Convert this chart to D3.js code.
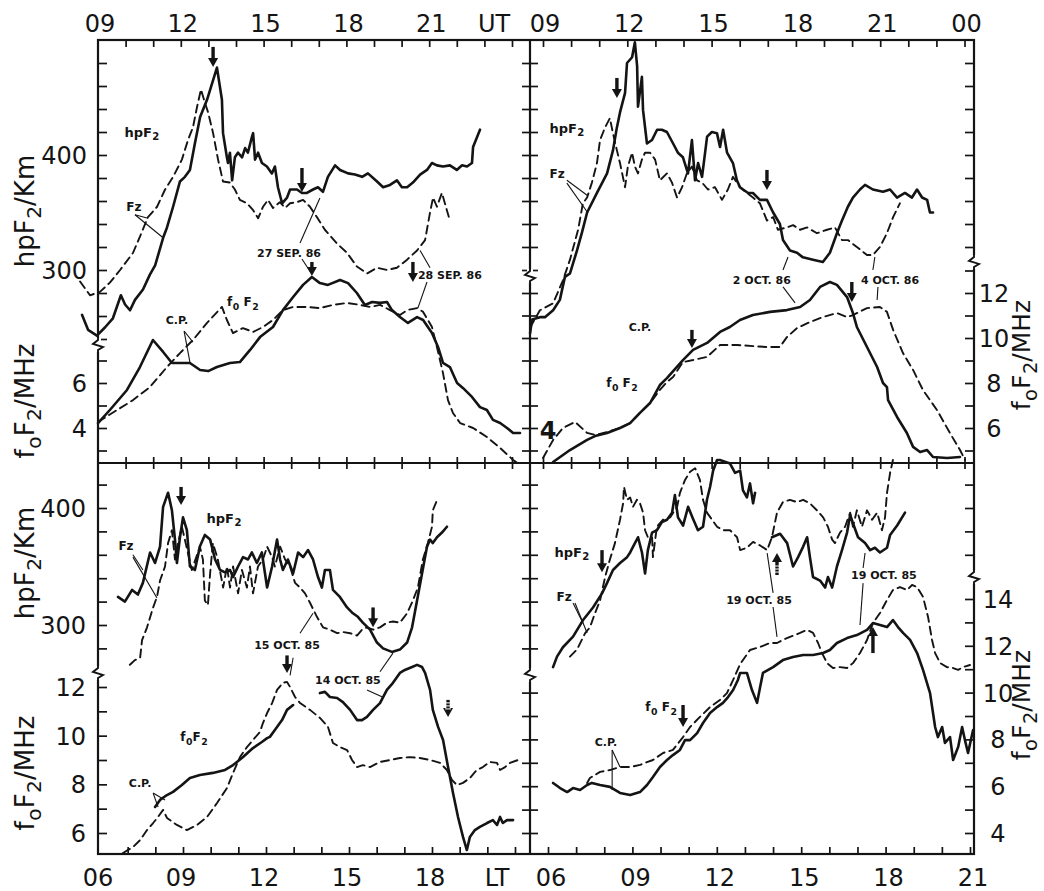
<!DOCTYPE html>
<html><head><meta charset="utf-8">
<script src="https://cdn.jsdelivr.net/npm/d3@7"></script>
<style>
body{margin:0;background:#fff}
svg{display:block}
text{font-family:"DejaVu Sans",sans-serif;fill:#141414}
</style>
</head><body>
<svg id="c" width="1044" height="891"></svg>
<script>
// ---------------- DATA (hour, value) ----------------
// Top-left panel (27/28 SEP 86), UT hours
const tlHpSolid = [[8.42,261],[8.64,248],[8.96,243],[9.25,250],[9.54,258],[9.83,278],[9.98,270],[10.16,265],[10.34,274],[10.63,283],[10.88,296],[11.07,304],[11.36,328],[11.5,337],[11.72,355],[11.97,377],[12.15,381],[12.33,387],[12.51,410],[12.7,433],[12.95,448],[13.31,476],[13.49,448],[13.53,419],[13.67,398],[13.71,393],[13.78,402],[13.86,378],[13.96,398],[14.07,402],[14.22,398],[14.33,406],[14.43,402],[14.58,416],[14.62,419],[14.69,396],[14.8,402],[14.94,393],[15.12,390],[15.3,384],[15.41,390],[15.52,372],[15.67,358],[15.85,363],[15.96,370],[16.21,370],[16.39,367],[16.57,367],[16.79,370],[16.97,372],[17.15,368],[17.33,381],[17.59,391],[17.77,387],[18.06,384],[18.31,383],[18.57,381],[18.78,384],[19.11,377],[19.33,372],[19.58,374],[19.83,378],[20.01,372],[20.2,372],[20.41,376],[20.67,383],[20.92,387],[21.1,393],[21.28,391],[21.5,390],[21.75,391],[22.0,387],[22.19,391],[22.37,390],[22.55,393],[22.59,407],[22.84,422]];
const tlHpDashed = [[8.35,290],[8.71,278],[9.07,281],[9.43,289],[9.8,300],[10.27,315],[10.52,329],[10.81,346],[11.14,355],[11.43,370],[11.72,381],[12.04,396],[12.26,413],[12.44,424],[12.59,442],[12.73,457],[12.88,445],[12.99,437],[13.17,419],[13.35,396],[13.53,377],[13.78,376],[13.96,370],[14.14,361],[14.4,358],[14.62,352],[14.8,345],[14.98,355],[15.16,361],[15.34,354],[15.59,359],[15.78,354],[15.96,358],[16.21,359],[16.43,361],[16.68,355],[16.93,346],[17.22,335],[17.66,323],[18.02,315],[18.38,303],[18.75,297],[19.11,302],[19.47,300],[19.83,302],[20.2,309],[20.56,317],[20.85,326],[21.03,350],[21.14,363],[21.28,355],[21.46,367],[21.64,352],[21.75,343]];
const tlFoSolid = [[9.0,4.22],[9.43,4.8],[10.05,5.69],[10.52,6.71],[10.99,7.91],[11.36,7.38],[11.68,6.89],[12.04,6.89],[12.33,6.89],[12.7,6.58],[12.99,6.53],[13.31,6.71],[13.78,6.89],[14.14,6.93],[14.51,7.47],[14.87,8.04],[15.34,8.49],[15.7,9.24],[16.07,9.82],[16.43,10.36],[16.75,10.71],[17.04,10.44],[17.33,10.36],[17.77,10.58],[18.06,10.44],[18.38,10.0],[18.67,9.47],[18.93,9.6],[19.22,9.56],[19.47,9.6],[19.65,9.24],[19.94,8.93],[20.23,8.67],[20.56,8.93],[20.78,8.8],[21.1,8.22],[21.32,7.6],[21.5,6.89],[21.75,6.71],[22.01,6.0],[22.22,5.78],[22.55,5.38],[22.84,4.93],[23.09,4.8],[23.31,4.36],[23.57,4.22],[23.82,4.0],[24.04,3.78],[24.29,3.78]];
const tlFoDashed = [[9.0,4.27],[9.69,4.8],[10.27,5.24],[10.88,5.82],[11.5,6.71],[11.97,7.33],[12.44,7.91],[12.95,8.67],[13.49,9.38],[13.67,8.8],[13.89,8.22],[14.25,8.44],[14.62,8.27],[14.98,8.49],[15.34,8.8],[15.7,9.24],[16.07,9.38],[16.57,9.38],[17.04,9.33],[17.51,9.47],[18.02,9.56],[18.49,9.47],[18.86,9.38],[19.22,9.47],[19.58,9.24],[19.94,9.02],[20.2,9.24],[20.56,9.33],[20.78,9.16],[21.1,8.49],[21.28,7.6],[21.5,6.44],[21.68,5.24],[21.86,4.67],[22.12,4.22],[22.59,4.0],[23.09,3.6],[23.57,3.11],[24.04,2.58],[24.29,2.36]];

// Top-right panel (2/4 OCT 86), UT hours
const trHpSolid = [[8.54,245],[8.61,257],[8.89,259],[9.07,259],[9.36,265],[9.6,274],[9.78,294],[9.96,297],[10.21,317],[10.39,333],[10.57,350],[10.92,367],[11.28,384],[11.49,404],[11.63,424],[11.74,437],[11.92,454],[11.99,480],[12.17,485],[12.27,498],[12.35,477],[12.38,442],[12.52,468],[12.56,439],[12.7,410],[12.88,413],[13.06,422],[13.23,422],[13.41,420],[13.63,410],[13.8,402],[13.98,398],[14.16,384],[14.3,413],[14.41,378],[14.52,393],[14.66,381],[14.84,416],[15.01,420],[15.19,419],[15.3,407],[15.41,422],[15.55,402],[15.76,393],[15.9,378],[16.01,372],[16.12,370],[16.3,367],[16.47,367],[16.72,361],[16.97,361],[17.19,350],[17.43,340],[17.54,326],[17.79,317],[18.04,315],[18.25,311],[18.61,309],[18.96,307],[19.21,315],[19.46,332],[19.64,343],[19.85,355],[20.03,363],[20.28,370],[20.46,374],[20.74,370],[21.1,368],[21.35,370],[21.6,363],[21.88,367],[22.13,363],[22.31,370],[22.49,363],[22.67,361],[22.77,350],[22.88,350]];
const trHpDashed = [[8.54,250],[8.89,265],[9.36,271],[9.71,291],[9.96,309],[10.25,335],[10.42,358],[10.57,363],[10.74,376],[10.92,393],[11.03,413],[11.21,424],[11.38,432],[11.49,419],[11.63,404],[11.74,393],[11.92,372],[12.02,390],[12.17,402],[12.27,390],[12.38,384],[12.52,396],[12.63,402],[12.81,402],[12.99,396],[13.16,378],[13.41,384],[13.59,376],[13.77,363],[13.95,372],[14.12,384],[14.3,390],[14.48,378],[14.66,376],[14.87,370],[15.12,372],[15.37,361],[15.58,370],[15.76,381],[16.01,372],[16.26,367],[16.47,363],[16.72,358],[16.97,343],[17.19,346],[17.36,335],[17.68,337],[17.9,339],[18.15,335],[18.4,337],[18.75,332],[19.11,335],[19.39,337],[19.64,326],[19.85,326],[20.17,320],[20.53,313],[20.74,313],[20.99,320],[21.24,332],[21.46,346],[21.7,358]];
const trFoSolid = [[9.36,4.49],[9.96,5.02],[10.57,5.47],[10.85,5.64],[11.28,5.78],[11.74,6.0],[12.1,6.22],[12.45,6.67],[12.81,7.11],[13.16,7.91],[13.41,8.22],[13.98,9.02],[14.34,9.47],[14.84,9.78],[15.3,10.27],[15.65,10.49],[16.01,10.8],[16.47,11.02],[17.08,11.16],[17.68,11.24],[18.15,11.38],[18.5,11.69],[18.86,12.27],[19.21,12.49],[19.46,12.36],[19.82,11.82],[20.03,11.11],[20.17,10.49],[20.53,9.6],[20.89,8.71],[21.1,8.0],[21.24,7.82],[21.28,7.24],[21.6,6.49],[21.95,5.78],[22.17,5.16],[22.42,4.93],[22.67,5.02],[22.88,4.71],[23.38,4.67],[23.84,4.71]];
const trFoDashed = [[9.0,4.67],[9.36,5.47],[9.71,6.0],[10.14,6.27],[10.57,5.78],[10.85,5.69],[11.28,5.82],[11.74,6.0],[12.1,6.22],[12.45,6.67],[12.81,7.11],[13.16,7.69],[13.41,8.04],[13.63,8.27],[13.98,8.93],[14.34,9.02],[14.84,9.16],[15.3,9.69],[15.9,9.69],[16.47,9.64],[16.97,9.6],[17.43,9.6],[17.68,10.04],[18.04,10.44],[18.5,10.71],[18.96,10.93],[19.46,11.11],[19.82,10.93],[20.03,11.02],[20.53,11.33],[20.99,11.38],[21.24,11.16],[21.46,10.36],[21.81,9.33],[22.17,8.58],[22.52,7.69],[23.02,6.8],[23.48,5.78],[23.84,5.02],[24.02,4.58]];

// Bottom-left panel (14/15 OCT 85), LT hours
const blHpSolid = [[6.65,324],[6.9,320],[7.16,330],[7.37,326],[7.55,336],[7.81,362],[7.99,353],[8.17,367],[8.28,401],[8.46,413],[8.6,398],[8.71,373],[8.78,353],[8.89,375],[9.0,392],[9.14,381],[9.25,350],[9.43,347],[9.61,367],[9.79,377],[9.98,373],[10.16,356],[10.34,347],[10.52,345],[10.7,347],[10.81,341],[10.99,350],[11.17,358],[11.35,356],[11.49,362],[11.67,353],[11.85,362],[12.04,332],[12.22,350],[12.4,373],[12.51,356],[12.61,347],[12.79,356],[12.98,344],[13.16,362],[13.34,358],[13.52,364],[13.7,356],[13.88,341],[14.02,332],[14.13,347],[14.31,347],[14.42,330],[14.67,324],[14.93,315],[15.14,310],[15.32,307],[15.5,302],[15.76,296],[16.01,285],[16.23,280],[16.55,277],[16.84,279],[17.1,285],[17.28,298],[17.46,321],[17.64,344],[17.82,367],[17.93,373],[18.03,370],[18.18,375],[18.36,379],[18.54,384]];
const blHpDashed = [[7.08,266],[7.26,270],[7.45,272],[7.52,287],[7.7,298],[7.92,315],[8.06,324],[8.17,338],[8.35,350],[8.46,370],[8.6,381],[8.71,356],[8.82,370],[8.96,384],[9.32,347],[9.61,367],[9.72,356],[9.79,321],[9.9,317],[9.98,344],[10.08,370],[10.26,356],[10.45,332],[10.59,350],[10.7,332],[10.81,350],[10.99,327],[11.13,347],[11.31,332],[11.42,350],[11.53,327],[11.71,350],[11.89,356],[12.04,367],[12.22,358],[12.32,350],[12.51,367],[12.69,356],[12.87,350],[13.05,336],[13.23,332],[13.41,327],[13.59,319],[13.84,307],[14.06,298],[14.31,296],[14.57,293],[14.78,294],[15.04,293],[15.29,291],[15.47,296],[15.65,298],[15.87,296],[16.12,298],[16.37,302],[16.59,303],[16.84,302],[17.1,310],[17.31,321],[17.49,332],[17.67,356],[17.85,370],[18.0,384],[18.03,398],[18.22,409]];
const blFoSolidA = [[7.99,7.07],[8.17,7.36],[8.42,7.56],[8.64,7.69],[8.96,7.97],[9.25,8.26],[9.61,8.38],[10.08,8.47],[10.52,8.59],[10.81,8.79],[11.17,9.12],[11.53,9.49],[11.85,9.74],[12.04,9.9],[12.14,9.95],[12.32,10.23],[12.58,10.64],[12.76,11.06],[12.98,11.26]];
const blFoSolidB = [[13.95,11.75],[14.13,11.8],[14.31,11.59],[14.57,11.55],[14.78,11.38],[15.04,11.06],[15.29,10.64],[15.47,10.64],[15.65,10.77],[15.87,11.06],[16.12,11.34],[16.37,11.88],[16.59,12.17],[16.84,12.58],[17.02,12.7],[17.28,12.82],[17.46,12.91],[17.64,12.82],[17.75,12.58],[17.93,11.88],[18.03,11.06],[18.22,10.36],[18.4,9.82],[18.58,8.71],[18.76,7.64],[18.94,6.66],[19.12,5.84],[19.26,5.3],[19.37,5.84],[19.55,6.12],[19.73,6.25],[19.99,6.41],[20.2,6.53],[20.35,6.33],[20.46,6.66],[20.56,6.41],[20.71,6.53],[20.93,6.53]];
const blFoDashed = [[6.83,5.18],[7.19,5.42],[7.45,5.71],[7.7,6.12],[7.92,6.41],[8.1,6.66],[8.28,6.95],[8.42,6.62],[8.78,6.33],[9.14,6.12],[9.51,6.33],[9.87,6.66],[10.23,7.23],[10.59,7.85],[10.81,8.47],[11.06,9.12],[11.31,9.53],[11.53,9.82],[11.78,10.15],[11.89,10.52],[12.04,10.93],[12.22,11.34],[12.4,11.88],[12.61,12.17],[12.76,12.21],[12.87,12.0],[13.05,11.59],[13.23,11.34],[13.59,11.06],[13.95,10.73],[14.24,10.36],[14.42,9.7],[14.67,9.53],[14.93,9.41],[15.11,9.0],[15.29,8.71],[15.5,8.79],[15.76,8.71],[16.12,8.92],[16.48,9.0],[16.84,9.08],[17.2,9.12],[17.56,9.08],[17.93,9.0],[18.29,8.88],[18.54,8.59],[18.72,8.18],[18.9,7.97],[19.12,8.06],[19.37,8.26],[19.62,8.59],[19.84,8.71],[20.09,8.92],[20.35,8.88],[20.46,8.59],[20.64,8.71],[20.82,8.88],[21.11,9.0]];

// Bottom-right panel (19 OCT 85), LT hours
const brHpSolidA = [[6.18,264],[6.32,273],[6.53,281],[6.89,290],[7.24,304],[7.6,315],[7.92,327],[8.1,336],[8.31,347],[8.56,353],[8.81,358],[8.92,362],[9.09,370],[9.2,375],[9.34,362],[9.45,344],[9.55,364],[9.7,379],[9.87,381],[10.05,388],[10.23,390],[10.41,396],[10.51,411],[10.62,392],[10.8,385],[10.98,401],[11.15,391],[11.33,381],[11.51,384],[11.65,407],[11.76,418],[11.87,432],[12.01,441],[12.11,441],[12.47,438],[12.65,430],[12.83,432],[12.93,415],[13.07,409],[13.18,421],[13.29,404],[13.36,413]];
const brHpSolidB = [[13.96,375],[14.25,378],[14.5,370],[14.71,350],[14.89,358],[15.07,367],[15.21,375],[15.31,358],[15.42,341],[15.67,338],[15.85,332],[15.95,341],[16.1,332],[16.27,350],[16.45,364],[16.63,379],[16.74,394],[16.84,387],[17.02,375],[17.27,370],[17.45,364],[17.62,366],[17.8,362],[18.05,366],[18.16,377],[18.41,385],[18.69,396]];
const brHpDashed = [[6.78,273],[7.03,279],[7.32,293],[7.49,298],[7.67,310],[7.85,321],[8.03,341],[8.2,356],[8.38,370],[8.56,390],[8.67,404],[8.7,418],[8.81,407],[8.92,409],[9.02,401],[9.16,407],[9.27,404],[9.38,396],[9.45,381],[9.55,375],[9.7,375],[9.73,358],[9.87,384],[10.09,390],[10.34,392],[10.59,401],[10.69,413],[10.87,424],[11.05,431],[11.23,434],[11.4,424],[11.51,407],[11.65,396],[11.83,390],[12.01,384],[12.22,381],[12.47,381],[12.72,375],[12.83,364],[13.07,366],[13.29,371],[13.54,368],[13.79,364],[13.96,375],[14.14,396],[14.35,405],[14.6,407],[14.85,405],[15.07,407],[15.31,404],[15.56,398],[15.78,392],[15.95,384],[16.1,373],[16.2,370],[16.38,379],[16.56,384],[16.74,396],[16.84,384],[16.98,398],[17.16,384],[17.34,398],[17.52,390],[17.7,396],[17.87,381],[17.98,392],[18.05,413],[18.16,430],[18.26,441]];
const brFoSolid = [[6.18,6.14],[6.43,5.92],[6.68,5.75],[6.89,5.92],[7.14,5.84],[7.39,6.05],[7.56,6.14],[7.85,6.05],[8.2,5.97],[8.56,5.71],[8.92,5.62],[9.27,5.75],[9.52,6.05],[9.73,6.39],[9.98,6.82],[10.23,7.12],[10.44,7.33],[10.69,7.55],[10.87,7.97],[11.05,7.97],[11.3,8.27],[11.51,8.7],[11.76,9.13],[12.01,9.38],[12.22,9.56],[12.4,9.81],[12.58,10.11],[12.75,10.54],[12.83,10.84],[13.07,10.84],[13.25,10.11],[13.43,9.56],[13.54,10.24],[13.64,10.84],[14.0,11.09],[14.35,11.39],[14.71,11.52],[15.07,11.61],[15.42,11.61],[15.78,11.69],[16.02,11.82],[16.27,12.12],[16.63,12.33],[16.98,12.46],[17.34,12.68],[17.55,12.97],[17.8,12.89],[18.05,12.8],[18.26,13.1],[18.44,12.8],[18.62,12.55],[18.87,12.25],[19.12,11.69],[19.33,10.97],[19.58,9.98],[19.76,8.53],[19.86,8.1],[20.01,8.53],[20.11,7.85],[20.29,8.1],[20.4,7.12],[20.58,7.68],[20.72,8.53],[20.82,7.97],[20.93,7.42],[21.11,8.4]];
const brFoDashed = [[7.39,6.14],[7.49,6.35],[7.85,6.61],[8.2,6.69],[8.56,6.82],[8.92,6.82],[9.27,6.91],[9.52,7.03],[9.73,7.12],[10.09,7.42],[10.44,7.55],[10.8,8.1],[11.05,8.53],[11.4,8.96],[11.76,9.38],[12.11,9.68],[12.36,9.98],[12.58,10.54],[12.83,11.22],[13.18,11.82],[13.54,11.95],[13.89,12.12],[14.14,12.12],[14.35,12.25],[14.6,12.38],[14.96,12.55],[15.21,12.68],[15.42,12.55],[15.6,12.12],[15.74,11.69],[15.92,11.26],[16.13,11.05],[16.38,11.09],[16.63,11.05],[16.84,11.26],[17.09,11.69],[17.34,12.25],[17.55,12.97],[17.8,13.4],[18.05,13.96],[18.26,14.38],[18.51,14.51],[18.76,14.38],[18.94,14.6],[19.12,14.51],[19.33,14.09],[19.51,13.23],[19.65,12.25],[19.76,11.69],[19.94,11.26],[20.18,11.09],[20.4,11.05],[20.58,10.97],[20.75,11.09],[21.0,11.18]];

// Tick labels
const topHoursTL = [9,12,15,18,21];
const topLabelsTL = ["09","12","15","18","21"];
const topHoursTR = [9,12,15,18,21,24];
const topLabelsTR = ["09","12","15","18","21","00"];
const botHoursBL = [6,9,12,15,18];
const botLabelsBL = ["06","09","12","15","18"];
const botHoursBR = [6,9,12,15,18,21];
const botLabelsBR = ["06","09","12","15","18","21"];
const hpLabels = [300,400];
const foLabelsTL = [4,6];
const foLabelsTR = [6,8,10,12];
const foLabelsBL = [6,8,10,12];
const foLabelsBR = [4,6,8,10,12,14];

// Annotations: [panel, text, hour, value, axis, size]
const notes = [
 ["TL","hpF_2",10.59,420,"hp",13],["TL","Fz",10.3,355,"hp",12],["TL","27 SEP. 86",15.92,315,"hp",11],["TL","28 SEP. 86",21.75,296,"hp",11],["TL","C.P.",11.86,8.8,"fo",11],["TL","f_0 F_2",14.25,9.6,"fo",12],
 ["TR","hpF_2",9.85,423.5,"hp",13],["TR","Fz",9.5,384,"hp",12],["TR","C.P.",12.45,10.49,"fo",11],["TR","f_0  F_2",11.81,8.0,"fo",12],["TR","2 OCT. 86",16.79,12.58,"fo",11],["TR","4 OCT. 86",21.35,12.58,"fo",11],
 ["BL","Fz",6.94,368,"hp",12],["BL","hpF_2",10.48,391.5,"hp",13],["BL","15 OCT. 85",12.76,283,"hp",11],["BL","14 OCT. 85",14.96,12.29,"fo",11],["BL","f_0F_2",9.4,9.95,"fo",12],["BL","C.P.",7.45,8.06,"fo",11],
 ["BR","hpF_2",6.85,362.4,"hp",13],["BR","Fz",6.57,324,"hp",12],["BR","19 OCT. 85",13.5,321.4,"hp",11],["BR","19 OCT. 85",17.94,342.7,"hp",11],["BR","f_0 F_2",10.02,9.38,"fo",12],["BR","C.P.",8.06,7.89,"fo",11]
];
// Leader lines: [panel, axis, h1, v1, h2, v2]
const leaders = [
 ["TL","hp",10.34,348,11.36,328],["TL","hp",10.34,348,10.81,345],["TL","hp",16.32,323.5,17.04,362.6],["TL","fo",16.39,11.51,16.72,10.89],["TL","hp",20.67,317,21.03,302],["TL","fo",20.92,10.49,20.59,9.33],["TL","fo",12.12,8.31,12.33,6.93],["TL","fo",12.12,8.31,12.44,7.82],
 ["TR","hp",9.85,378,10.57,365],["TR","hp",9.85,375.6,10.6,349.6],["TR","hp",17.54,300,17.72,311.3],["TR","fo",17.54,12.27,17.97,11.56],["TR","hp",20.74,300,20.81,311.3],["TR","fo",20.92,12.27,20.89,11.69],
 ["BL","hp",7.19,360,7.55,347],["BL","hp",7.19,358,8.06,323],["BL","hp",13.23,293,13.7,310],["BL","hp",12.98,272,12.87,257],["BL","hp",16.59,276,16.12,260],["BL","fo",15.65,11.88,16.19,11.6],["BL","fo",7.92,7.64,8.1,7.07],["BL","fo",7.92,7.64,8.35,7.36],
 ["BR","hp",6.89,318.8,7.24,301.7],["BR","hp",6.96,318.8,7.39,293.2],["BR","hp",13.79,361.5,14.0,327.4],["BR","fo",14.0,13.66,14.14,12.38],["BR","hp",17.27,361.5,17.2,348.7],["BR","fo",17.2,14.68,17.09,12.89],["BR","fo",8.28,7.55,8.28,5.84],["BR","fo",8.28,7.55,8.56,6.82]
];
// Arrows: [panel, axis, hour, tail value, tip value, hatched]
const arrows = [
 ["TL","hp",13.17,494,476.5,0],["TL","hp",16.39,388.7,367.8,0],["TL","fo",16.75,11.38,10.76,0],["TL","fo",20.41,11.38,10.49,0],
 ["TR","hp",11.63,467,449.6,0],["TR","hp",16.97,387,369.6,0],["TR","fo",14.3,10.36,9.56,0],["TR","fo",19.99,12.49,11.6,0],
 ["BL","hp",8.93,418,402.6,0],["BL","hp",15.87,315,298,0],["BL","hp",12.76,274,259,0],["BL","fo",18.58,11.47,10.77,1],
 ["BR","hp",7.92,364,345,0],["BR","hp",14.14,342.7,361.5,1],["BR","fo",17.55,11.69,12.8,0],["BR","fo",10.8,9.47,8.53,0]
];

// ---------------- LAYOUT ----------------
const L=98, M=530, R=974, T=40, MY=463, B=854;
const ink="#141414";
const svg=d3.select("#c");
svg.append("rect").attr("width",1044).attr("height",891).attr("fill","#fff");

const hpTop=d3.scaleLinear().domain([300,400]).range([270,155]);
const hpBot=d3.scaleLinear().domain([300,400]).range([625,508]);
const P={
 TL:{x:d3.scaleLinear().domain([9,12]).range([98,180.8]), hp:hpTop, fo:d3.scaleLinear().domain([4,6]).range([428,383])},
 TR:{x:d3.scaleLinear().domain([9,12]).range([543,627.3]), hp:hpTop, fo:d3.scaleLinear().domain([8,12]).range([383,293])},
 BL:{x:d3.scaleLinear().domain([6,9]).range([100,183]), hp:hpBot, fo:d3.scaleLinear().domain([6,12]).range([833,687])},
 BR:{x:d3.scaleLinear().domain([6,9]).range([548,632.4]), hp:hpBot, fo:d3.scaleLinear().domain([4,14]).range([833,599])}
};

// frame
const fr=svg.append("g").attr("stroke",ink).attr("stroke-width",2.2).attr("fill","none");
fr.append("rect").attr("x",L).attr("y",T).attr("width",R-L).attr("height",B-T);
fr.append("line").attr("x1",M).attr("x2",M).attr("y1",T).attr("y2",B);
fr.append("line").attr("x1",L).attr("x2",R).attr("y1",MY).attr("y2",MY);

// ticks helper using d3 axes
function tk(axisFn, scale, values, size, tx, ty){
  const g=svg.append("g").attr("transform",`translate(${tx},${ty})`).attr("color",ink)
   .call(axisFn(scale).tickValues(values).tickSize(size).tickFormat(""));
  g.select(".domain").remove();
  g.selectAll("line").attr("stroke-width",1.7);
}
const hrs=(a,b)=>d3.range(a,b+1);
// top axis ticks
tk(d3.axisBottom,P.TL.x,hrs(10,24),7,0,T);
tk(d3.axisBottom,P.TR.x,hrs(9,24),7,0,T);
// middle horizontal divider (crossing ticks)
tk(d3.axisBottom,P.TL.x,hrs(10,24),12,0,MY-6);
tk(d3.axisBottom,P.TR.x,hrs(9,24),12,0,MY-6);
// bottom ticks
tk(d3.axisTop,P.BL.x,hrs(7,21),7,0,B);
tk(d3.axisTop,P.BR.x,hrs(6,21),7,0,B);
// left axis
tk(d3.axisRight,hpTop,d3.range(240,481,20),9,L,0);
tk(d3.axisRight,P.TL.fo,[3,4,5,6,7],9,L,0);
tk(d3.axisRight,hpBot,d3.range(280,421,20),9,L,0);
tk(d3.axisRight,P.BL.fo,[6,7,8,9,10,11,12],9,L,0);
// middle vertical divider (crossing)
tk(d3.axisRight,hpTop,d3.range(300,481,20),16,M-8,0);
tk(d3.axisRight,P.TR.fo,[5,6,7,8,9,10,11,12],16,M-8,0);
tk(d3.axisRight,hpBot,d3.range(280,421,20),16,M-8,0);
tk(d3.axisRight,P.BR.fo,[4,5,6,7,8,9,10],16,M-8,0);
// right axis
tk(d3.axisLeft,hpTop,d3.range(320,481,20),9,R,0);
tk(d3.axisLeft,P.TR.fo,[5,6,7,8,9,10,11,12,13],9,R,0);
tk(d3.axisLeft,hpBot,[360,380,400,420],9,R,0);
tk(d3.axisLeft,P.BR.fo,d3.range(4,15),9,R,0);

// axis breaks (y given in hpF2 units of the row's scale)
const breaks=[[L,hpTop,234.8],[M,hpTop,294.8],[R,hpTop,307],[L,hpBot,259],[M,hpBot,257.3],[R,hpBot,341]];
breaks.forEach(([x,s,v])=>{
  const y=s(v);
  svg.append("rect").attr("x",x-3).attr("y",y-7).attr("width",6).attr("height",14).attr("fill","#fff");
  svg.append("path").attr("d",`M${x},${y-8}L${x},${y-5}L${x-5},${y-1}L${x+5},${y+2}L${x},${y+5}L${x},${y+8}`)
    .attr("fill","none").attr("stroke",ink).attr("stroke-width",1.9);
});

// curves
function curve(p, ax, data, dashed){
  const s=P[p];
  svg.append("path").datum(data)
   .attr("d",d3.line().x(d=>s.x(d[0])).y(d=>s[ax](d[1])))
   .attr("fill","none").attr("stroke",ink)
   .attr("stroke-width",dashed?1.9:2.6)
   .attr("stroke-dasharray",dashed?"8,5":null)
   .attr("stroke-linejoin","round").attr("stroke-linecap","round");
}
curve("TL","hp",tlHpSolid,false); curve("TL","hp",tlHpDashed,true);
curve("TL","fo",tlFoSolid,false); curve("TL","fo",tlFoDashed,true);
curve("TR","hp",trHpSolid,false); curve("TR","hp",trHpDashed,true);
curve("TR","fo",trFoSolid,false); curve("TR","fo",trFoDashed,true);
curve("BL","hp",blHpSolid,false); curve("BL","hp",blHpDashed,true);
curve("BL","fo",blFoSolidA,false); curve("BL","fo",blFoSolidB,false); curve("BL","fo",blFoDashed,true);
curve("BR","hp",brHpSolidA,false); curve("BR","hp",brHpSolidB,false); curve("BR","hp",brHpDashed,true);
curve("BR","fo",brFoSolid,false); curve("BR","fo",brFoDashed,true);

// text with "_x" subscripts
function rich(sel, str, size){
  const parts=str.split(/(_.)/).filter(s=>s.length);
  parts.forEach(s=>{
    if(s[0]==="_") sel.append("tspan").text(s[1]).attr("font-size",size*0.78).attr("dy",size*0.28).attr("dx",0.5);
    else {
      const t=sel.append("tspan").text(s);
      if(sel.selectAll("tspan").size()>1) t.attr("dy",-size*0.28);
    }
  });
}
// annotations
notes.forEach(([p,t,h,v,ax,sz])=>{
  const s=P[p];
  const el=svg.append("text").attr("x",s.x(h)).attr("y",s[ax](v)+sz*0.36)
    .attr("text-anchor","middle").attr("font-size",sz).attr("font-weight","bold");
  rich(el,t,sz);
});
leaders.forEach(([p,ax,h1,v1,h2,v2])=>{
  const s=P[p];
  svg.append("line").attr("x1",s.x(h1)).attr("y1",s[ax](v1)).attr("x2",s.x(h2)).attr("y2",s[ax](v2))
   .attr("stroke",ink).attr("stroke-width",1.1);
});
arrows.forEach(([p,ax,h,a,b,hat])=>{
  const s=P[p], x=s.x(h), y0=s[ax](a), y1=s[ax](b), d=Math.sign(y1-y0);
  svg.append("line").attr("x1",x).attr("x2",x).attr("y1",y0).attr("y2",y1-d*6).attr("stroke",ink).attr("stroke-width",3.4);
  svg.append("path").attr("d",`M${x-5},${y1-d*9}L${x+5},${y1-d*9}L${x},${y1}Z`).attr("fill",ink);
  if(hat){ for(let k=0;k<3;k++){ const yy=y0+d*(3+k*3);
    svg.append("line").attr("x1",x-3).attr("x2",x+3).attr("y1",yy).attr("y2",yy).attr("stroke","#fff").attr("stroke-width",1);} }
});

// tick labels
const lab=(x,y,t,anchor,size)=>svg.append("text").attr("x",x).attr("y",y).attr("text-anchor",anchor||"middle").attr("font-size",size||24).text(t);
topHoursTL.forEach((h,i)=>lab(P.TL.x(h)+2,32,topLabelsTL[i]));
lab(P.TL.x(23.35),32,"UT");
topHoursTR.forEach((h,i)=>lab(P.TR.x(h)+2,32,topLabelsTR[i]));
botHoursBL.forEach((h,i)=>lab(P.BL.x(h)-2,886,botLabelsBL[i]));
lab(P.BL.x(20.35),886,"LT");
botHoursBR.forEach((h,i)=>lab(P.BR.x(h)+3,886,botLabelsBR[i]));
hpLabels.forEach(v=>{lab(87,hpTop(v)+9,v,"end"); lab(86,hpBot(v)+9,v,"end");});
foLabelsTL.forEach(v=>lab(87,P.TL.fo(v)+9,v,"end"));
foLabelsBL.forEach(v=>lab(86,P.BL.fo(v)+9,v,"end"));
foLabelsTR.forEach(v=>lab(994,P.TR.fo(v)+9,v,"middle"));
foLabelsBR.forEach(v=>lab(998,P.BR.fo(v)+9,v,"middle"));
// stray "4" inside the top-right panel
lab(P.TR.x(9.18),P.TR.fo(5.91)+9,"4","middle",24).attr("font-weight","bold");

// axis titles
function title(x,y,str,size){
  const el=svg.append("text").attr("transform",`translate(${x},${y}) rotate(-90)`)
    .attr("text-anchor","middle").attr("font-size",size);
  rich(el,str,size);
}
title(34,211,"hpF_2/Km",26);
title(34,401,"f_oF_2/MHz",26);
title(34,563,"hpF_2/Km",26);
title(34,773,"f_oF_2/MHz",26);
title(1030,355,"f_oF_2/MHz",25);
title(1030,705,"f_oF_2/MHz",25);
</script>
</body></html>
